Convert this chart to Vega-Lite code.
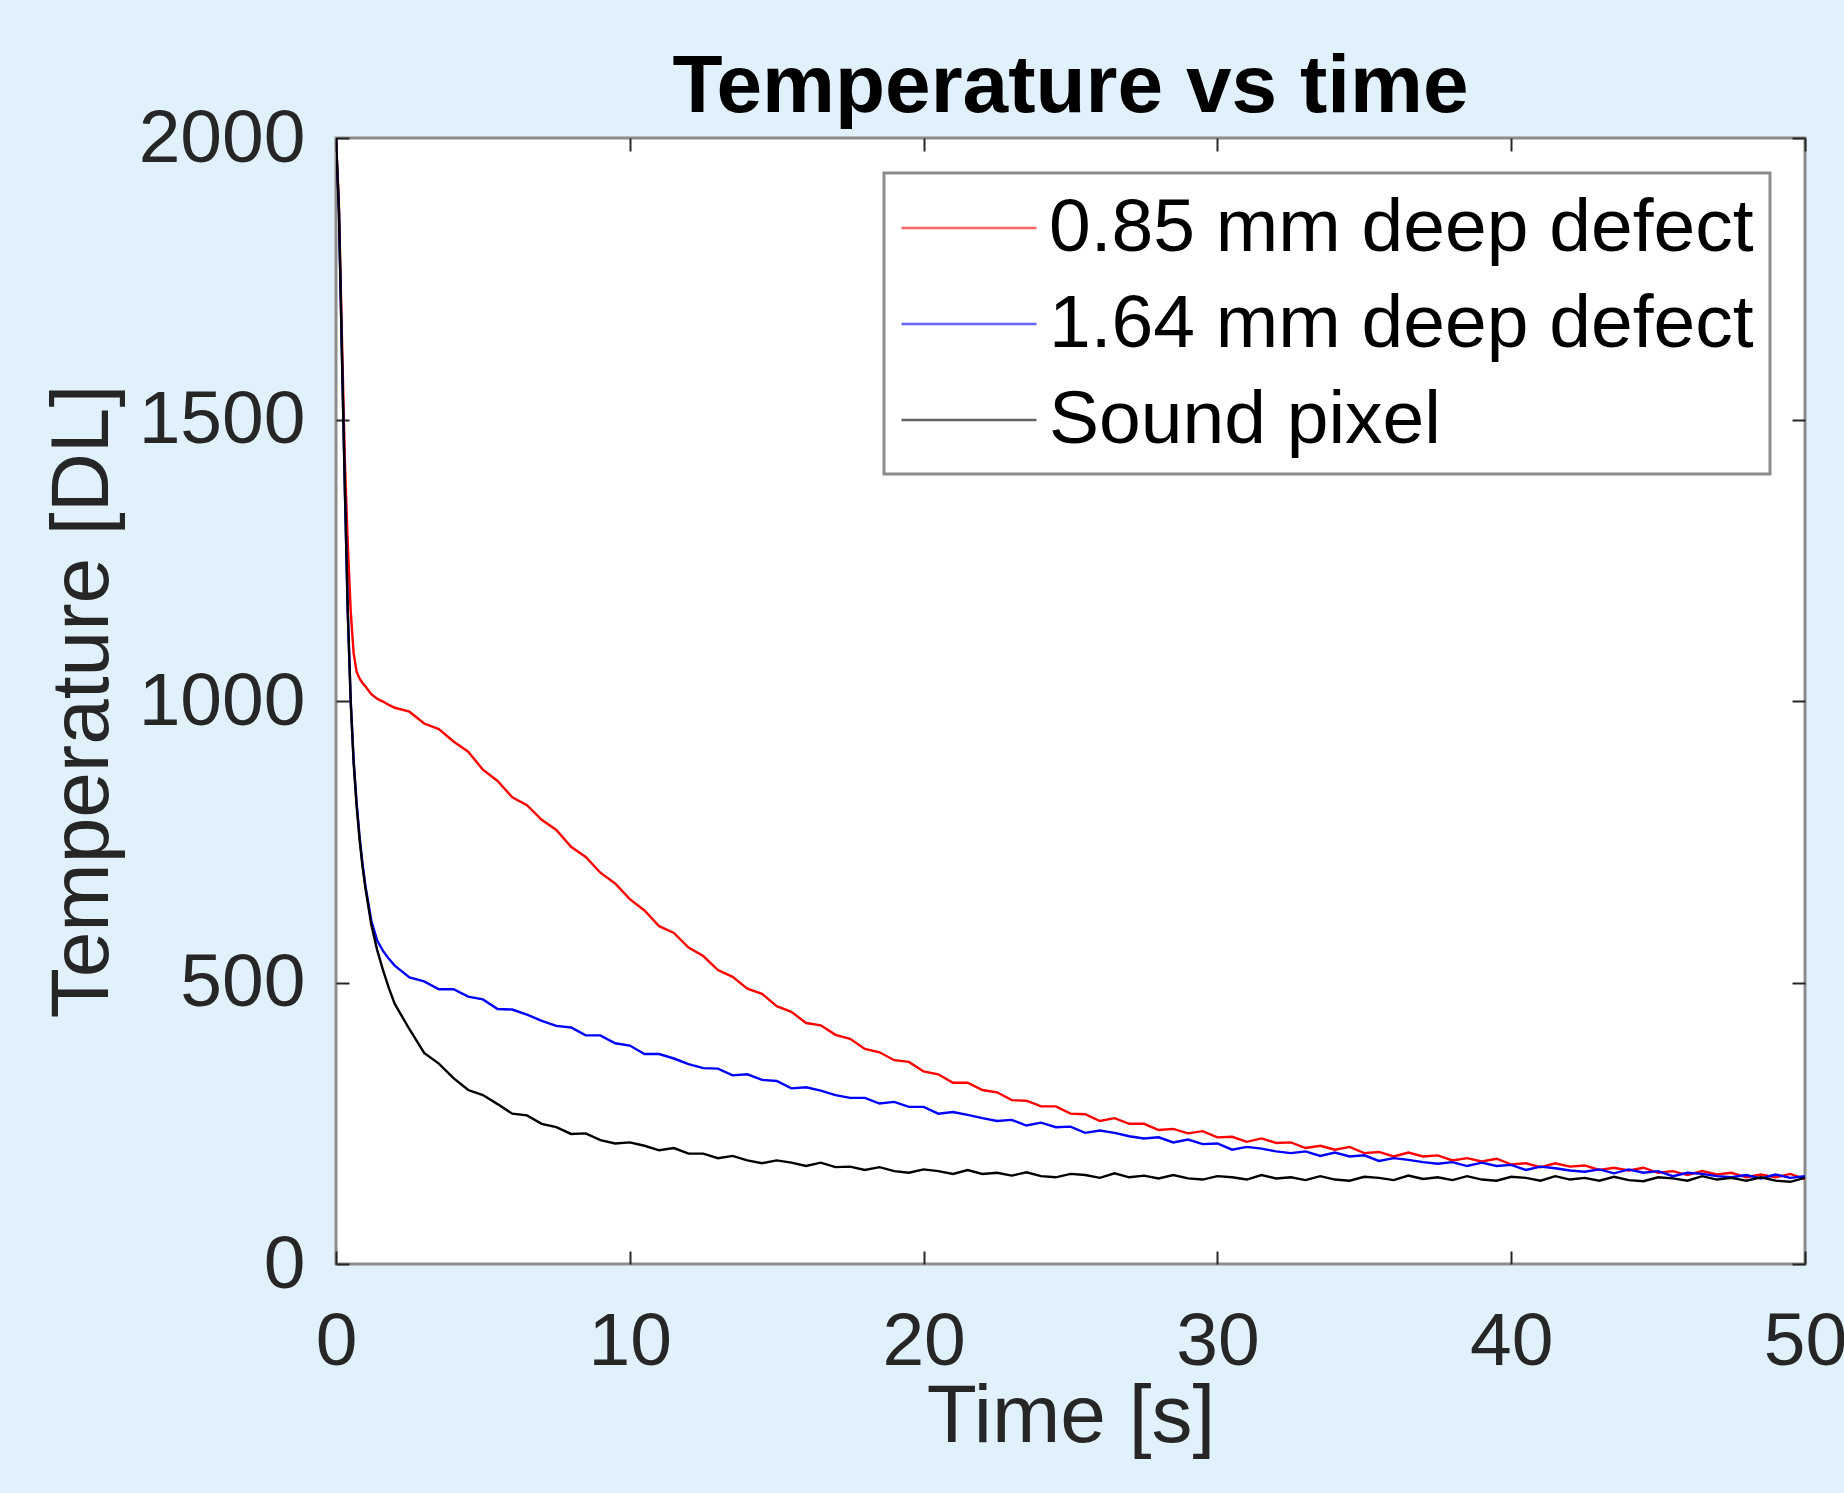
{
  "$schema": "https://vega.github.io/schema/vega-lite/v6.json",
  "autosize": {"type": "none"},
  "width": 1469,
  "height": 1126,
  "padding": {"left": 336, "top": 138, "right": 39, "bottom": 229},
  "background": "#E1F1FC",
  "config": {
    "view": {"fill": "white", "stroke": "#8c8c8c", "strokeWidth": 3},
    "font": "Liberation Sans"
  },
  "title": {
    "text": "Temperature vs time",
    "fontSize": 82,
    "fontWeight": "bold",
    "font": "Liberation Sans",
    "color": "#000000",
    "anchor": "middle",
    "frame": "group",
    "baseline": "alphabetic",
    "offset": 30,
    "dy": 123
  },
  "data": {
    "values": [
      {"t": 0, "r": 2000, "b": 2000, "k": 2000},
      {"t": 0.1, "r": 1880, "b": 1870, "k": 1870},
      {"t": 0.2, "r": 1650, "b": 1620, "k": 1620},
      {"t": 0.3, "r": 1430, "b": 1380, "k": 1380},
      {"t": 0.4, "r": 1280, "b": 1160, "k": 1160},
      {"t": 0.5, "r": 1160, "b": 1000, "k": 1000},
      {"t": 0.6, "r": 1085, "b": 895, "k": 890},
      {"t": 0.7, "r": 1052, "b": 820, "k": 815},
      {"t": 0.8, "r": 1040, "b": 760, "k": 755},
      {"t": 0.9, "r": 1032, "b": 712, "k": 707},
      {"t": 1.0, "r": 1026, "b": 672, "k": 668},
      {"t": 1.2, "r": 1012, "b": 610, "k": 603},
      {"t": 1.4, "r": 1004, "b": 575, "k": 558},
      {"t": 1.6, "r": 999, "b": 556, "k": 522},
      {"t": 1.8, "r": 993, "b": 542, "k": 490},
      {"t": 2.0, "r": 988, "b": 530, "k": 462},
      {"t": 2.5, "r": 981, "b": 509, "k": 417},
      {"t": 3.0, "r": 960, "b": 502, "k": 375},
      {"t": 3.5, "r": 950, "b": 488, "k": 356},
      {"t": 4.0, "r": 928, "b": 488, "k": 330},
      {"t": 4.5, "r": 910, "b": 475, "k": 309},
      {"t": 5.0, "r": 878, "b": 470, "k": 300},
      {"t": 5.5, "r": 858, "b": 453, "k": 284},
      {"t": 6.0, "r": 829, "b": 452, "k": 267},
      {"t": 6.5, "r": 815, "b": 443, "k": 264},
      {"t": 7.0, "r": 789, "b": 432, "k": 249},
      {"t": 7.5, "r": 771, "b": 423, "k": 243},
      {"t": 8.0, "r": 741, "b": 420, "k": 231},
      {"t": 8.5, "r": 723, "b": 406, "k": 232},
      {"t": 9.0, "r": 695, "b": 406, "k": 220},
      {"t": 9.5, "r": 676, "b": 392, "k": 214},
      {"t": 10.0, "r": 648, "b": 388, "k": 216},
      {"t": 10.5, "r": 628, "b": 373, "k": 210},
      {"t": 11.0, "r": 600, "b": 373, "k": 202},
      {"t": 11.5, "r": 588, "b": 365, "k": 206},
      {"t": 12.0, "r": 562, "b": 355, "k": 196},
      {"t": 12.5, "r": 547, "b": 348, "k": 196},
      {"t": 13.0, "r": 522, "b": 347, "k": 188},
      {"t": 13.5, "r": 510, "b": 335, "k": 192},
      {"t": 14.0, "r": 489, "b": 337, "k": 184},
      {"t": 14.5, "r": 480, "b": 327, "k": 179},
      {"t": 15.0, "r": 458, "b": 325, "k": 184},
      {"t": 15.5, "r": 448, "b": 312, "k": 180},
      {"t": 16.0, "r": 428, "b": 314, "k": 174},
      {"t": 16.5, "r": 424, "b": 308, "k": 180},
      {"t": 17.0, "r": 407, "b": 300, "k": 172},
      {"t": 17.5, "r": 400, "b": 295, "k": 173},
      {"t": 18.0, "r": 382, "b": 295, "k": 167},
      {"t": 18.5, "r": 376, "b": 285, "k": 172},
      {"t": 19.0, "r": 362, "b": 288, "k": 165},
      {"t": 19.5, "r": 359, "b": 279, "k": 162},
      {"t": 20.0, "r": 342, "b": 279, "k": 168},
      {"t": 20.5, "r": 337, "b": 267, "k": 165},
      {"t": 21.0, "r": 322, "b": 270, "k": 160},
      {"t": 21.5, "r": 322, "b": 265, "k": 167},
      {"t": 22.0, "r": 309, "b": 259, "k": 160},
      {"t": 22.5, "r": 305, "b": 254, "k": 162},
      {"t": 23.0, "r": 291, "b": 256, "k": 157},
      {"t": 23.5, "r": 290, "b": 246, "k": 163},
      {"t": 24.0, "r": 280, "b": 251, "k": 156},
      {"t": 24.5, "r": 280, "b": 243, "k": 154},
      {"t": 25.0, "r": 267, "b": 244, "k": 160},
      {"t": 25.5, "r": 266, "b": 233, "k": 158},
      {"t": 26.0, "r": 254, "b": 237, "k": 153},
      {"t": 26.5, "r": 259, "b": 233, "k": 161},
      {"t": 27.0, "r": 249, "b": 227, "k": 154},
      {"t": 27.5, "r": 249, "b": 223, "k": 157},
      {"t": 28.0, "r": 238, "b": 225, "k": 152},
      {"t": 28.5, "r": 240, "b": 216, "k": 158},
      {"t": 29.0, "r": 232, "b": 221, "k": 152},
      {"t": 29.5, "r": 236, "b": 213, "k": 150},
      {"t": 30.0, "r": 225, "b": 214, "k": 156},
      {"t": 30.5, "r": 226, "b": 203, "k": 154},
      {"t": 31.0, "r": 217, "b": 208, "k": 150},
      {"t": 31.5, "r": 223, "b": 205, "k": 158},
      {"t": 32.0, "r": 215, "b": 200, "k": 152},
      {"t": 32.5, "r": 216, "b": 197, "k": 154},
      {"t": 33.0, "r": 206, "b": 200, "k": 149},
      {"t": 33.5, "r": 210, "b": 192, "k": 156},
      {"t": 34.0, "r": 203, "b": 198, "k": 150},
      {"t": 34.5, "r": 208, "b": 191, "k": 148},
      {"t": 35.0, "r": 197, "b": 193, "k": 155},
      {"t": 35.5, "r": 199, "b": 183, "k": 153},
      {"t": 36.0, "r": 191, "b": 188, "k": 149},
      {"t": 36.5, "r": 198, "b": 185, "k": 157},
      {"t": 37.0, "r": 191, "b": 181, "k": 151},
      {"t": 37.5, "r": 193, "b": 178, "k": 154},
      {"t": 38.0, "r": 184, "b": 181, "k": 149},
      {"t": 38.5, "r": 188, "b": 174, "k": 156},
      {"t": 39.0, "r": 182, "b": 180, "k": 150},
      {"t": 39.5, "r": 187, "b": 174, "k": 148},
      {"t": 40.0, "r": 177, "b": 176, "k": 155},
      {"t": 40.5, "r": 179, "b": 167, "k": 153},
      {"t": 41.0, "r": 172, "b": 173, "k": 148},
      {"t": 41.5, "r": 179, "b": 170, "k": 156},
      {"t": 42.0, "r": 173, "b": 166, "k": 150},
      {"t": 42.5, "r": 175, "b": 164, "k": 153},
      {"t": 43.0, "r": 167, "b": 168, "k": 148},
      {"t": 43.5, "r": 171, "b": 161, "k": 155},
      {"t": 44.0, "r": 166, "b": 168, "k": 149},
      {"t": 44.5, "r": 171, "b": 162, "k": 147},
      {"t": 45.0, "r": 162, "b": 165, "k": 154},
      {"t": 45.5, "r": 165, "b": 156, "k": 152},
      {"t": 46.0, "r": 158, "b": 162, "k": 148},
      {"t": 46.5, "r": 165, "b": 160, "k": 156},
      {"t": 47.0, "r": 159, "b": 156, "k": 150},
      {"t": 47.5, "r": 162, "b": 154, "k": 153},
      {"t": 48.0, "r": 154, "b": 158, "k": 148},
      {"t": 48.5, "r": 159, "b": 152, "k": 154},
      {"t": 49.0, "r": 154, "b": 159, "k": 148},
      {"t": 49.5, "r": 160, "b": 153, "k": 146},
      {"t": 50.0, "r": 151, "b": 156, "k": 153}
    ]
  },
  "transform": [{"fold": ["r", "b", "k"], "as": ["s", "v"]}],
  "layer": [
    {
      "mark": {"type": "line", "strokeWidth": 2.4, "clip": true},
      "encoding": {
        "x": {
          "field": "t", "type": "quantitative",
          "scale": {"domain": [0, 50], "nice": false},
          "axis": {
            "orient": "bottom", "values": [0, 10, 20, 30, 40, 50],
            "domain": false, "grid": false,
            "tickSize": -13, "tickWidth": 2, "tickColor": "#262626",
            "labelFontSize": 75, "labelColor": "#262626", "labelFont": "Liberation Sans",
            "labelPadding": 54, "labelFlush": false, "labelOverlap": false,
            "title": "Time [s]", "titleFontSize": 82, "titleFontWeight": "normal",
            "titleColor": "#262626", "titleFont": "Liberation Sans",
            "titleBaseline": "alphabetic", "titleX": 734.5, "titleY": 177, "titleAlign": "center"
          }
        },
        "y": {
          "field": "v", "type": "quantitative",
          "scale": {"domain": [0, 2000], "nice": false},
          "axis": {
            "orient": "left", "values": [0, 500, 1000, 1500, 2000], "format": "d",
            "domain": false, "grid": false,
            "tickSize": -13, "tickWidth": 2, "tickColor": "#262626",
            "labelFontSize": 75, "labelColor": "#262626", "labelFont": "Liberation Sans",
            "labelPadding": 44, "labelFlush": false, "labelOverlap": false, "labelLimit": 600,
            "title": "Temperature [DL]", "titleFontSize": 82, "titleFontWeight": "normal",
            "titleColor": "#262626", "titleFont": "Liberation Sans",
            "titleAngle": 270, "titleBaseline": "alphabetic", "titleAlign": "center",
            "titleX": -229, "titleY": 563
          }
        },
        "color": {
          "field": "s", "type": "nominal",
          "scale": {"domain": ["r", "b", "k"], "range": ["#ff0000", "#0000ff", "#000000"]},
          "legend": {
            "orient": "none", "legendX": 548, "legendY": 35, "title": null,
            "symbolType": "M-1.8,0H1.8", "symbolSize": 5625, "symbolStrokeWidth": 2.5,
            "symbolOpacity": 0.6, "symbolOffset": 30,
            "labelFontSize": 75, "labelFont": "Liberation Sans", "labelColor": "#000000",
            "labelOffset": 41, "rowPadding": 19, "padding": 16, "labelLimit": 2000,
            "strokeColor": "#8c8c8c", "fillColor": "white",
            "labelExpr": "datum.label == 'r' ? '0.85 mm deep defect' : datum.label == 'b' ? '1.64 mm deep defect' : 'Sound pixel'",
            "encode": {"legend": {"update": {"strokeWidth": {"value": 3}}}}
          }
        }
      }
    },
    {
      "mark": {"type": "point", "opacity": 0},
      "encoding": {
        "x": {
          "field": "t", "type": "quantitative",
          "axis": {
            "orient": "top", "values": [0, 10, 20, 30, 40, 50], "labels": false,
            "domain": false, "grid": false, "title": null,
            "tickSize": -13, "tickWidth": 2, "tickColor": "#262626"
          }
        },
        "y": {
          "field": "v", "type": "quantitative",
          "axis": {
            "orient": "right", "values": [0, 500, 1000, 1500, 2000], "labels": false,
            "domain": false, "grid": false, "title": null,
            "tickSize": -13, "tickWidth": 2, "tickColor": "#262626"
          }
        }
      }
    }
  ],
  "resolve": {"axis": {"x": "independent", "y": "independent"}}
}
